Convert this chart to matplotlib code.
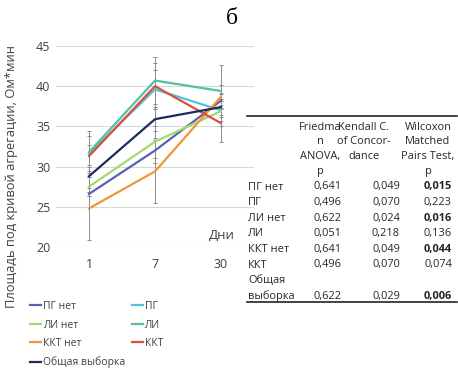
import numpy as np
import matplotlib.pyplot as plt

plt.rcParams['font.family'] = ['Open Sans', 'DejaVu Sans']

# chart data
days = ['1', '7', '30']
names = ['ПГ нет', 'ПГ', 'ЛИ нет', 'ЛИ', 'ККТ нет', 'ККТ', 'Общая выборка']
pg_net = [26.6, 32.0, 38.2]
pg = [31.6, 39.6, 37.0]
li_net = [27.5, 33.1, 36.9]
li = [31.8, 40.7, 39.4]
kkt_net = [24.8, 29.4, 38.7]
kkt = [31.3, 40.0, 35.4]
total = [28.8, 35.9, 37.4]
# error half widths
pg_net_err = [0.3, 1.6, 1.0]
pg_err = [2.2, 2.4, 2.0]
li_net_err = [1.2, 2.0, 1.2]
li_err = [2.6, 2.9, 3.2]
kkt_net_err = [3.9, 3.9, 1.4]
kkt_err = [1.4, 2.85, 2.3]
total_err = [1.4, 1.5, 1.0]

# table data
table_rows = ['ПГ нет', 'ПГ', 'ЛИ нет', 'ЛИ', 'ККТ нет', 'ККТ', 'Общая\nвыборка']
friedman_p = [0.641, 0.496, 0.622, 0.051, 0.641, 0.496, 0.622]
kendall_p = [0.049, 0.070, 0.024, 0.218, 0.049, 0.070, 0.029]
wilcoxon_p = [0.015, 0.223, 0.016, 0.136, 0.044, 0.074, 0.006]
headers = [['Friedma', 'n', 'ANOVA,', 'p'],
           ['Kendall C.', 'of Concor-', 'dance'],
           ['Wilcoxon', 'Matched', 'Pairs Test,', 'p']]

W, H = 458, 369
colors = ['#5663ad', '#4fc3dc', '#a5d86e', '#52c0a4', '#f0963c', '#d9503f', '#1f2b5c']
series = [pg_net, pg, li_net, li, kkt_net, kkt, total]
errs = [pg_net_err, pg_err, li_net_err, li_err, kkt_net_err, kkt_err, total_err]


def fx(px):
    return px / W


def fy(py):
    return 1 - py / H


fig = plt.figure(figsize=(W / 100, H / 100), dpi=100)
ax = fig.add_axes([fx(56), fy(247), fx(198), 201 / H])

x = np.arange(len(days))
for vals, err in zip(series, errs):
    ax.errorbar(x, vals, yerr=err, fmt='none', ecolor='#8c8c8c', elinewidth=0.7,
                capsize=1.5, capthick=0.7, zorder=2)
handles = []
for vals, c, n in zip(series, colors, names):
    h, = ax.plot(x, vals, color=c, lw=1.6, label=n, zorder=3)
    handles.append(h)

ax.set_xlim(-0.5, 2.5)
ax.set_ylim(20, 45)
ax.set_yticks(np.arange(20, 46, 5))
ax.set_xticks(x)
ax.set_xticklabels(days)
ax.grid(axis='y', color='#d9d9d9', lw=0.8)
ax.set_axisbelow(True)
for s in ax.spines.values():
    s.set_visible(False)
ax.tick_params(axis='both', length=0, labelsize=9, colors='#404040')
ax.tick_params(axis='y', pad=4)
ax.tick_params(axis='x', pad=8)
ax.text(0.905, 0.06, 'Дни', transform=ax.transAxes, ha='right', va='center',
        fontsize=9.5, color='#404040')

fig.text(fx(12), fy(176), 'Площадь под кривой агрегации, Ом*мин', rotation=90,
         ha='center', va='center', fontsize=9.3, color='#404040')
fig.text(fx(232), fy(18), 'б', ha='center', va='center', fontsize=17,
         family=['Liberation Serif', 'DejaVu Serif'])

# legend: column-major order
order = [0, 2, 4, 6, 1, 3, 5]
fig.legend([handles[i] for i in order], [names[i] for i in order], ncol=2,
           loc='upper left', bbox_to_anchor=(fx(30), fy(301)), frameon=False,
           fontsize=7.5, handlelength=1.1, handletextpad=0.15, labelspacing=0.72,
           columnspacing=0.6, borderpad=0, borderaxespad=0, labelcolor='#404040')

# statistics table
fs = 7.9
col_centers = [320, 364, 428]
col_right = [342, 400, 452]
for cx, lines in zip(col_centers, headers):
    for i, t in enumerate(lines):
        fig.text(fx(cx), fy(127 + 14.8 * i), t, ha='center', va='center',
                 fontsize=fs, color='#262626')

row_y = 187
for i, lab in enumerate(table_rows):
    parts = lab.split('\n')
    for j, p in enumerate(parts):
        fig.text(fx(248), fy(row_y + 15.6 * j), p, ha='left', va='center',
                 fontsize=fs, color='#262626')
    vy = row_y + 15.6 * (len(parts) - 1)
    vals = [friedman_p[i], kendall_p[i], wilcoxon_p[i]]
    for k, v in enumerate(vals):
        bold = k == 2 and v < 0.05
        fig.text(fx(col_right[k]), fy(vy), f'{v:.3f}'.replace('.', ','), ha='right',
                 va='center', fontsize=fs, color='#262626',
                 fontweight='bold' if bold else 'normal')
    row_y += 15.6 * len(parts)

for yy in (116, 302):
    fig.add_artist(plt.Line2D([fx(247), fx(457)], [fy(yy), fy(yy)], color='#222222', lw=1.2))

fig.savefig('out.png', dpi=100)
